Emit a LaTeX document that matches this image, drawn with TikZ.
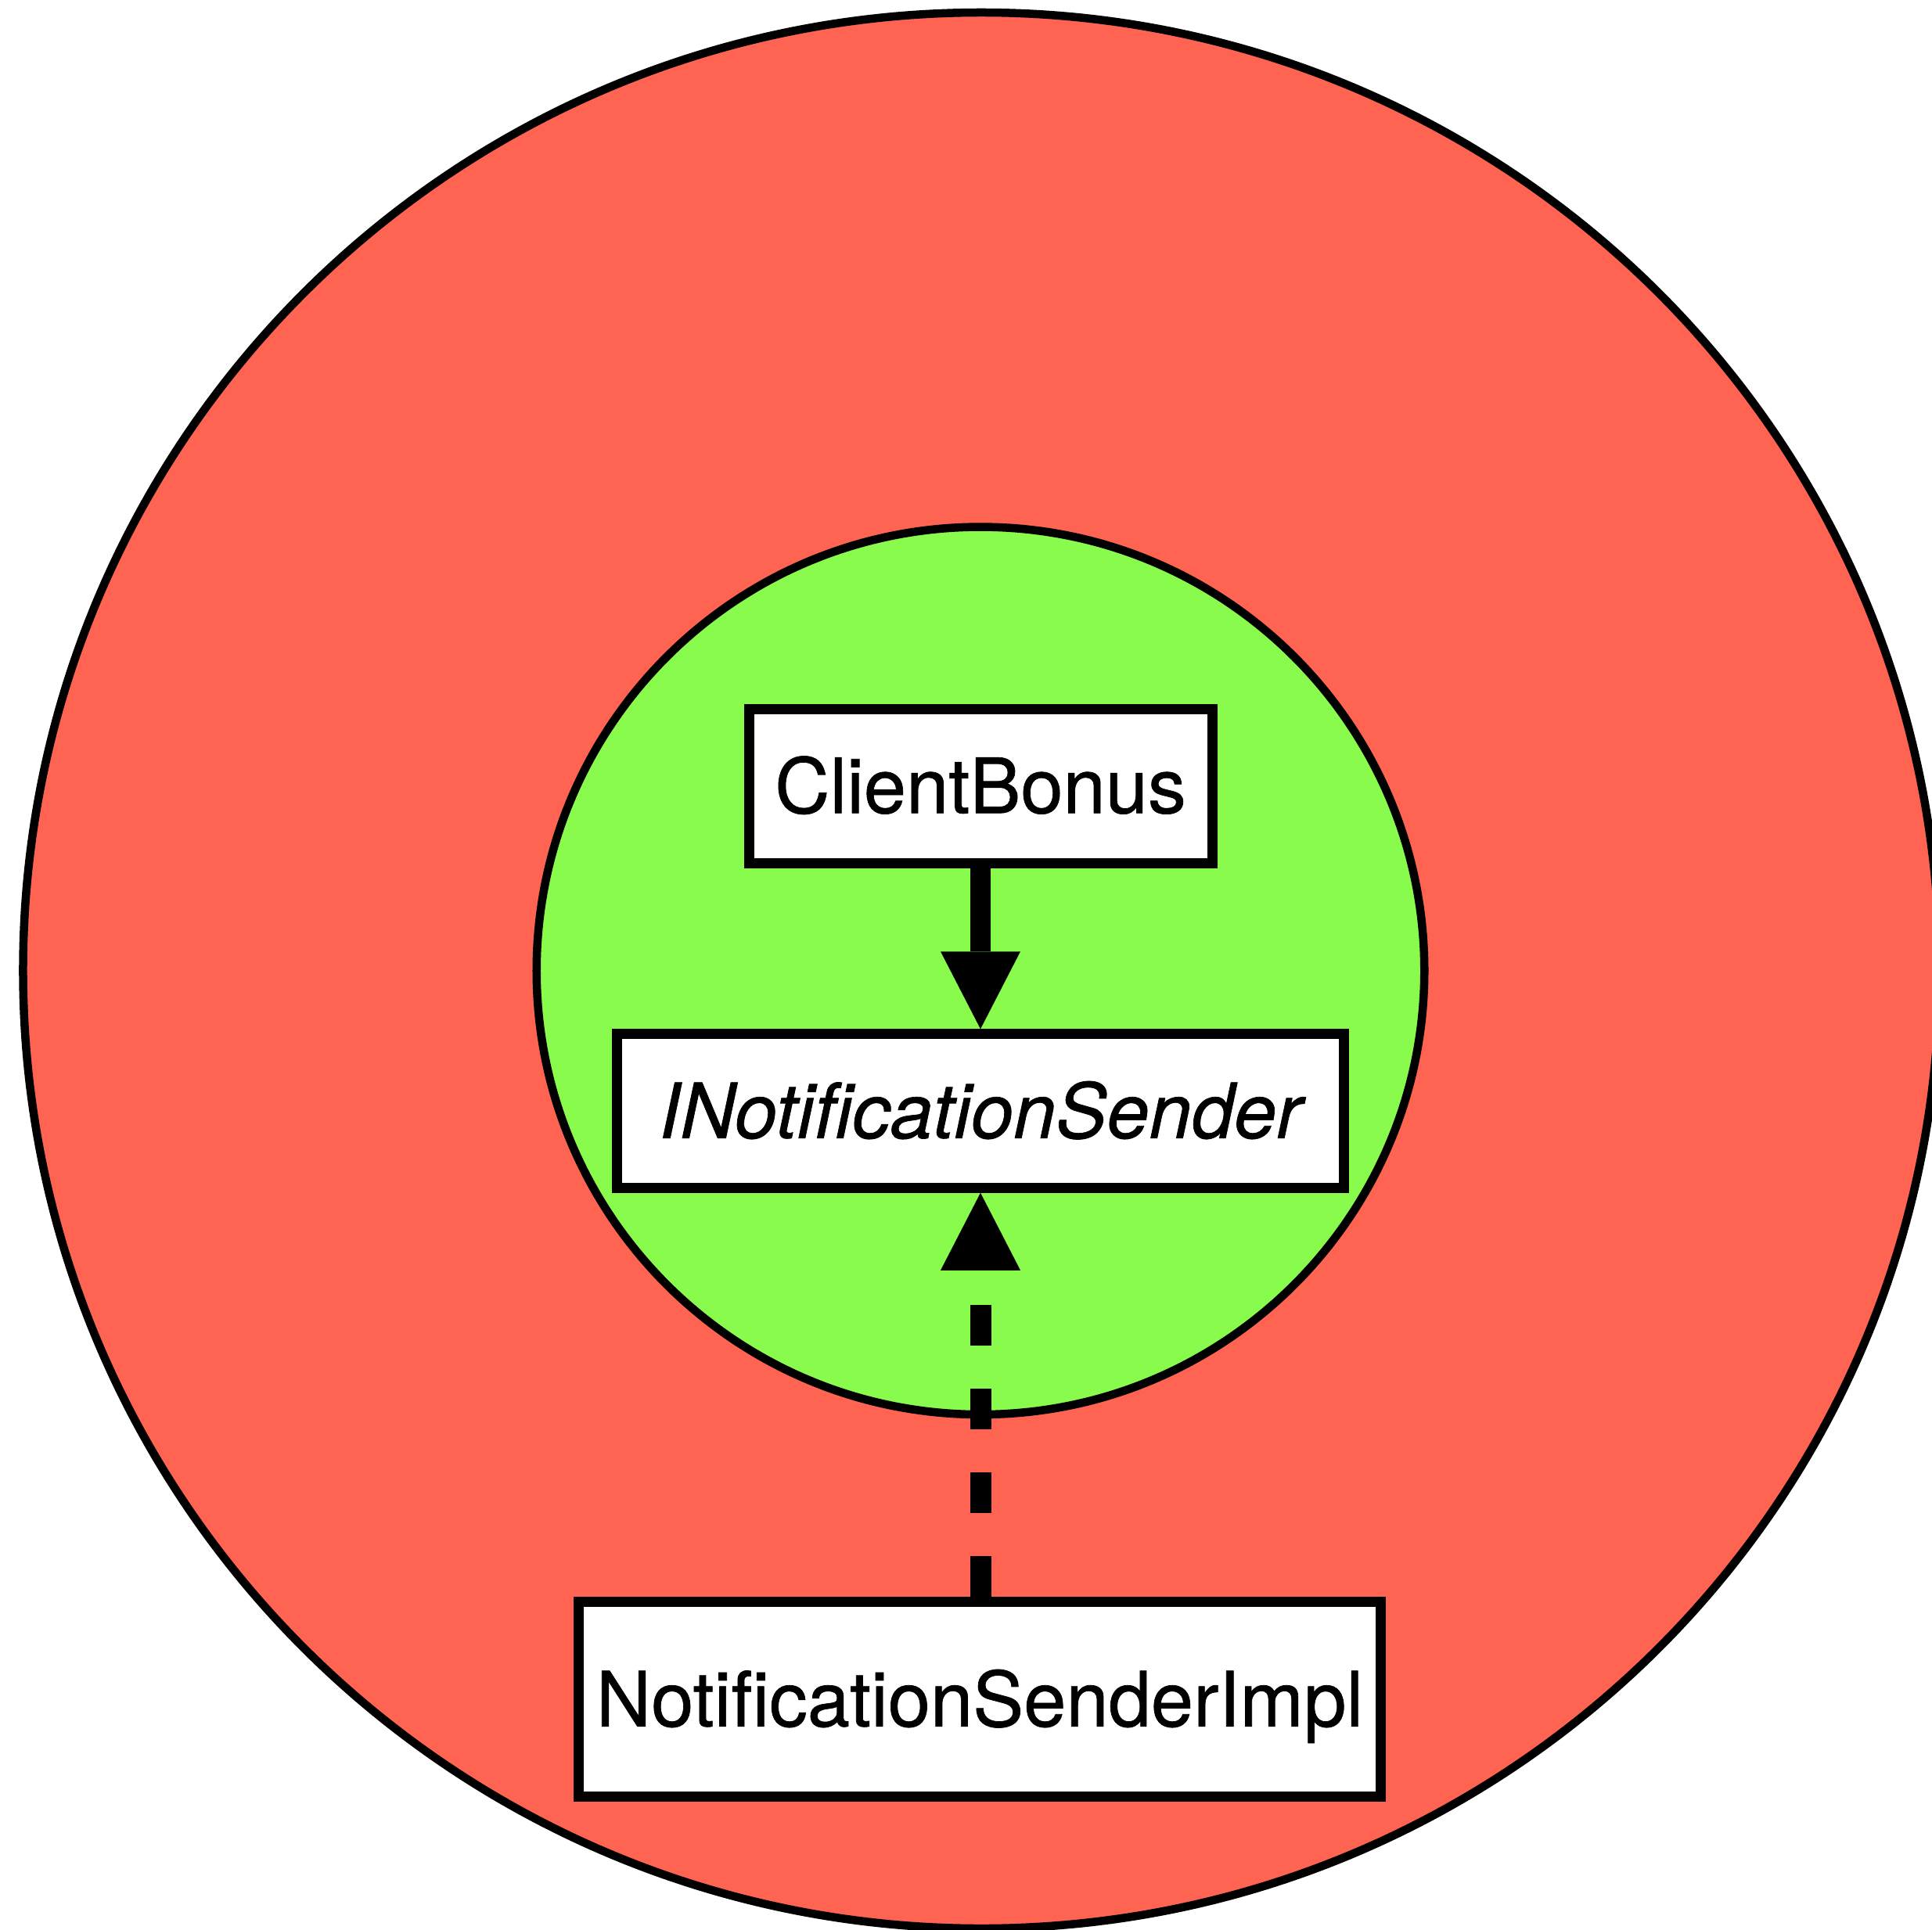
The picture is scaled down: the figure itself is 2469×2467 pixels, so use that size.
\documentclass[tikz,border=0pt]{standalone}
\usepackage{fontspec}
\setmainfont[Ligatures=NoCommon,UprightFeatures={FakeBold=0.7},ItalicFeatures={FakeBold=0.7}]{TeX Gyre Heros}
\usetikzlibrary{arrows.meta}
\definecolor{outerred}{RGB}{255,99,82}
\definecolor{innergreen}{RGB}{137,251,77}
\tikzset{
  ring/.style={circle, draw=black, line width=2.1pt, inner sep=0pt},
  classbox/.style={rectangle, draw=black, fill=white, line width=2.6pt, inner sep=0pt,
    text height=13.9pt, text depth=0pt, font=\fontsize{19.5pt}{23pt}\selectfont},
  uses/.style={line width=5.2pt, -{Triangle[length=19.8pt,width=20.4pt,line width=0pt]}},
  realizes/.style={line width=5.4pt, dash pattern=on 10.5pt off 10.9pt,
    -{Triangle[length=19.8pt,width=20.4pt,line width=0pt]}}
}
\begin{document}
\begin{tikzpicture}[x=0.2pt,y=-0.2pt]
\useasboundingbox (0,0) rectangle (2469,2467);
\node[ring, fill=outerred, minimum size=489.8pt] (outer) at (1254,1240.5) {};
\node[ring, fill=innergreen, minimum size=226.9pt] (inner) at (1253,1240.8) {};
\node[classbox, minimum width=118.4pt, minimum height=39.4pt] (client) at (1253,1004.5) {ClientBonus};
\node[classbox, minimum width=185.8pt, minimum height=39.3pt] (iface) at (1253,1420) {\itshape INotificationSender};
\node[classbox, minimum width=204.9pt, minimum height=49.8pt] (impl) at (1252,2172) {NotificationSenderImpl};
\draw[uses] (client.south) -- (iface.north);
\draw[realizes] (impl.north -| iface.south) -- (iface.south);
\end{tikzpicture}
\end{document}
